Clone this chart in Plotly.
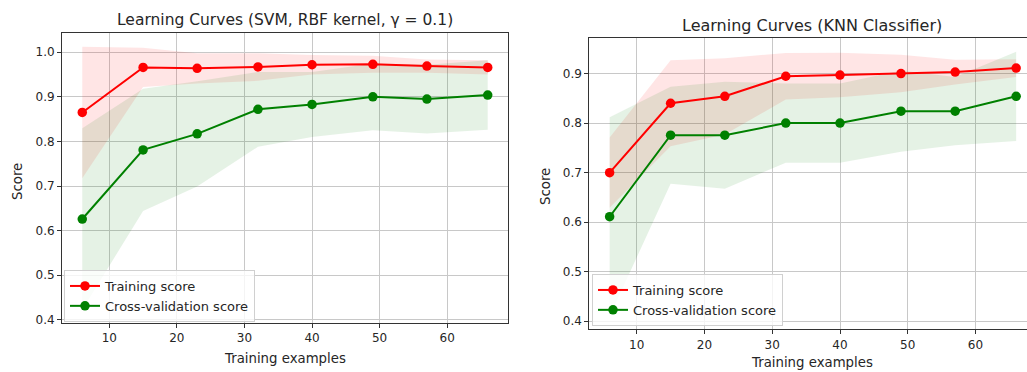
import plotly.graph_objects as go

# ---- data ----
train_sizes = [6, 15, 23, 32, 40, 49, 57, 66]

svm_train_mean = [0.865, 0.966, 0.964, 0.967, 0.972, 0.973, 0.969, 0.966]
svm_train_std = [0.1475, 0.044, 0.034, 0.031, 0.022, 0.019, 0.015, 0.016]
svm_cv_mean = [0.626, 0.781, 0.817, 0.872, 0.883, 0.900, 0.895, 0.904]
svm_cv_std = [0.2035, 0.137, 0.118, 0.084, 0.073, 0.075, 0.077, 0.078]

knn_train_mean = [0.700, 0.840, 0.854, 0.8945, 0.897, 0.900, 0.903, 0.911]
knn_train_std = [0.071, 0.087, 0.077, 0.047, 0.045, 0.038, 0.025, 0.018]
knn_cv_mean = [0.611, 0.7755, 0.7755, 0.800, 0.800, 0.824, 0.824, 0.854]
knn_cv_std = [0.201, 0.098, 0.108, 0.080, 0.080, 0.082, 0.069, 0.090]

titles = ["Learning Curves (SVM, RBF kernel, \u03b3 = 0.1)", "Learning Curves (KNN Classifier)"]
series_names = ["Training score", "Cross-validation score"]
y_ticks = [0.4, 0.5, 0.6, 0.7, 0.8, 0.9, 1.0]
x_ticks = [10, 20, 30, 40, 50, 60]

W, H = 1027, 372
FONT = "DejaVu Sans"
TXT = "#262626"
RED = "#ff0000"
GREEN = "#008000"
RED_FILL = "rgba(255,0,0,0.1)"
GREEN_FILL = "rgba(0,128,0,0.1)"

fig = go.Figure()


def band(x, mean, std, fillcolor, xa, ya):
    upper = [m + s for m, s in zip(mean, std)]
    lower = [m - s for m, s in zip(mean, std)]
    fig.add_trace(go.Scatter(
        x=list(x) + list(x)[::-1], y=upper + lower[::-1],
        fill="toself", fillcolor=fillcolor, line=dict(width=0),
        mode="lines", hoverinfo="skip", showlegend=False, xaxis=xa, yaxis=ya))


def curve(x, mean, color, name, xa, ya, legend):
    fig.add_trace(go.Scatter(
        x=x, y=mean, mode="lines+markers", name=name,
        line=dict(color=color, width=2), marker=dict(color=color, size=9.5),
        xaxis=xa, yaxis=ya, legend=legend))


panels = [
    (svm_train_mean, svm_train_std, svm_cv_mean, svm_cv_std, "x", "y", "legend"),
    (knn_train_mean, knn_train_std, knn_cv_mean, knn_cv_std, "x2", "y2", "legend2"),
]
for tm, ts, cm, cs, xa, ya, lg in panels:
    band(train_sizes, tm, ts, RED_FILL, xa, ya)
    band(train_sizes, cm, cs, GREEN_FILL, xa, ya)
    curve(train_sizes, tm, RED, series_names[0], xa, ya, lg)
    curve(train_sizes, cm, GREEN, series_names[1], xa, ya, lg)

axis_common = dict(
    showgrid=True, gridcolor="#c8c8c8", gridwidth=1,
    showline=True, linecolor="#333333", linewidth=1, mirror=True,
    ticks="outside", ticklen=4, tickcolor="#333333",
    tickfont=dict(family=FONT, size=12, color=TXT),
    zeroline=False, automargin=False,
)

legend_common = dict(
    xanchor="left", yanchor="top",
    bgcolor="rgba(255,255,255,0.8)", bordercolor="#d0d0d0", borderwidth=1,
    font=dict(family=FONT, size=13, color=TXT), tracegroupgap=0, itemwidth=30,
)

fig.update_layout(
    width=W, height=H,
    margin=dict(l=0, r=0, t=0, b=0),
    paper_bgcolor="white", plot_bgcolor="white",
    font=dict(family=FONT, size=12, color=TXT),
    xaxis=dict(domain=[62 / W, 508 / W], range=[3, 69], tickvals=x_ticks, anchor="y", **axis_common),
    yaxis=dict(domain=[1 - 323 / H, 1 - 33 / H], range=[0.3928, 1.0432], tickvals=y_ticks,
               tickformat=".1f", anchor="x", **axis_common),
    xaxis2=dict(domain=[589.3 / W, 1.0], range=[3, 67.6], tickvals=x_ticks, anchor="y2", **axis_common),
    yaxis2=dict(domain=[1 - 329.3 / H, 1 - 38.3 / H], range=[0.3838, 0.9711], tickvals=y_ticks[:-1],
                tickformat=".1f", anchor="x2", **axis_common),
    legend=dict(x=64 / W, y=1 - 270 / H, **legend_common),
    legend2=dict(x=592 / W, y=1 - 274 / H, **legend_common),
    showlegend=True,
)

# titles and axis labels
ann = [
    dict(text=titles[0], x=285 / W, y=1 - 20 / H, size=15.5),
    dict(text=titles[1], x=812 / W, y=1 - 26 / H, size=16),
    dict(text="Training examples", x=285 / W, y=1 - 358 / H, size=13.3),
    dict(text="Training examples", x=812 / W, y=1 - 362.5 / H, size=13.3),
    dict(text="Score", x=17 / W, y=1 - 182 / H, textangle=-90, size=13.3),
    dict(text="Score", x=545 / W, y=1 - 187 / H, textangle=-90, size=13.3),
]
for a in ann:
    size = a.pop("size")
    fig.add_annotation(xref="paper", yref="paper", xanchor="center", yanchor="middle",
                       showarrow=False, font=dict(family=FONT, size=size, color=TXT), **a)

fig.write_html(
    "out.html",
    config={"displayModeBar": False},
    post_script="document.body.style.margin='0';document.body.style.padding='0';"
                "document.documentElement.style.overflow='hidden';",
)
